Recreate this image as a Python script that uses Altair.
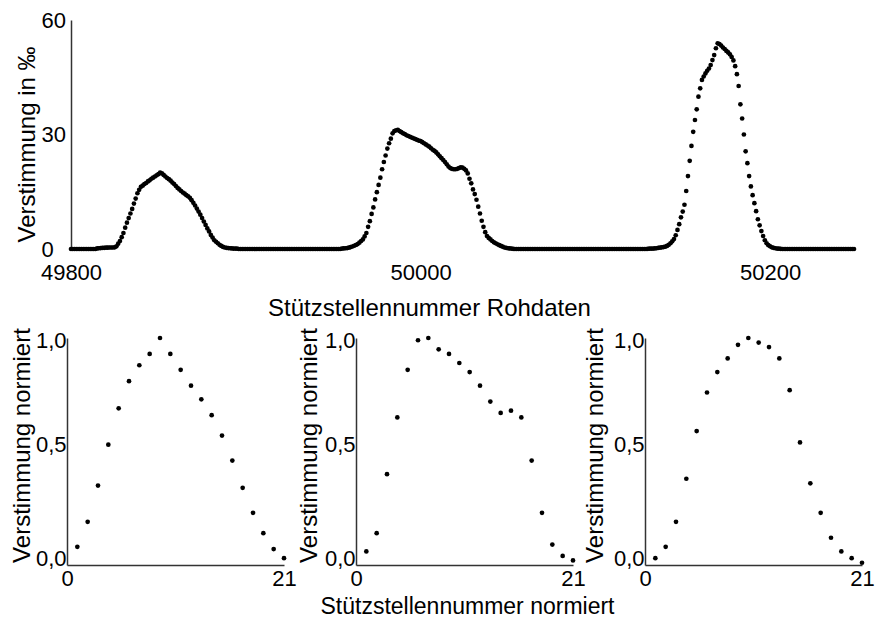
import altair as alt
import pandas as pd

FONT = "Liberation Sans"

# ---- raw data: detuning in per mille over the sample number ----
X_START = 49800
X_END = 50248
raw_x_ticks = [49800, 50000, 50200]
raw_y_ticks = [0, 30, 60]

peak1_start = 49815
peak1 = [0.15, 0.2, 0.25, 0.3, 0.3, 0.35, 0.35, 0.4, 0.4, 0.4, 0.45, 0.7, 1.4, 2.1, 3.1,
         4.2, 5.6, 6.9, 8.1, 9.3, 10.5, 11.9, 13.2, 14.6, 15.5, 16.3, 16.6, 17.0, 17.3, 17.7,
         18.0, 18.4, 18.7, 19.0, 19.3, 19.6, 20.0, 19.8, 19.4, 19.0, 18.6, 18.3, 17.9, 17.4, 17.0,
         16.5, 16.0, 15.6, 15.2, 14.8, 14.5, 14.1, 13.8, 13.4, 12.8, 12.1, 11.4, 10.6, 9.8, 9.0,
         8.1, 7.2, 6.3, 5.4, 4.6, 3.7, 3.0, 2.3, 1.9, 1.5, 1.1, 0.8, 0.55, 0.4, 0.3,
         0.25, 0.2, 0.15, 0.12, 0.1, 0.08]

peak2_start = 49955
peak2 = [0.1, 0.15, 0.2, 0.25, 0.35, 0.5, 0.65, 0.85, 1.05, 1.3, 1.65, 2.1, 2.5, 3.3, 4.2,
         5.8, 7.3, 9.2, 10.9, 13.0, 14.9, 16.8, 18.7, 20.9, 22.8, 24.5, 26.3, 27.7, 28.9, 30.3,
         30.9, 31.1, 31.2, 30.9, 30.6, 30.3, 30.1, 29.8, 29.6, 29.4, 29.2, 29.0, 28.8, 28.6, 28.4,
         28.3, 28.0, 27.7, 27.4, 27.1, 26.8, 26.4, 26.0, 25.7, 25.3, 24.8, 24.3, 23.8, 23.3, 22.8,
         22.2, 21.6, 21.2, 21.0, 20.9, 20.9, 21.0, 21.2, 21.4, 21.3, 21.0, 20.6, 19.8, 18.4, 17.2,
         15.6, 14.4, 12.9, 11.1, 9.3, 7.4, 5.8, 4.4, 3.4, 2.9, 2.5, 2.1, 1.75, 1.5, 1.25,
         1.0, 0.8, 0.6, 0.4, 0.3, 0.2, 0.15, 0.1, 0.05]

peak3_start = 50130
peak3 = [0.05, 0.08, 0.1, 0.12, 0.15, 0.2, 0.3, 0.35, 0.45, 0.5, 0.6, 0.8, 1.1, 1.5, 2.0,
         2.6, 3.6, 5.0, 6.5, 8.3, 9.8, 11.6, 15.2, 19.1, 23.1, 27.0, 30.7, 33.8, 36.6, 39.9,
         42.1, 44.3, 45.2, 46.0, 46.7, 47.3, 48.2, 49.5, 50.8, 52.6, 53.9, 53.7, 53.3, 52.8, 52.4,
         51.9, 51.5, 51.0, 50.3, 49.4, 47.9, 45.8, 42.7, 37.9, 34.2, 30.0, 25.6, 22.5, 19.1, 16.4,
         14.1, 12.0, 9.9, 7.8, 6.2, 4.7, 3.4, 2.3, 1.5, 1.0, 0.7, 0.45, 0.3, 0.2, 0.12,
         0.08, 0.05]

# ---- normalised support points (21 per peak) ----
norm_x = list(range(1, 22))
norm_ticks_x = [0, 21]
norm_ticks_y = [0, 0.5, 1]
norm1 = [0.08, 0.19, 0.35, 0.53, 0.69, 0.81, 0.88, 0.93, 1.00, 0.93, 0.86, 0.79, 0.73, 0.66,
         0.57, 0.46, 0.34, 0.23, 0.14, 0.07, 0.03]
norm2 = [0.06, 0.14, 0.40, 0.65, 0.86, 0.99, 1.00, 0.95, 0.93, 0.89, 0.85, 0.79, 0.72, 0.67,
         0.68, 0.65, 0.46, 0.23, 0.09, 0.04, 0.02]
norm3 = [0.03, 0.08, 0.19, 0.38, 0.59, 0.76, 0.85, 0.91, 0.97, 1.00, 0.98, 0.96, 0.91, 0.77,
         0.54, 0.36, 0.23, 0.12, 0.06, 0.03, 0.01]

# full raw series: zero baseline with the three peaks inserted
raw_x = list(range(X_START, X_END + 1))
raw_y = [0.0] * len(raw_x)
for start, vals in ((peak1_start, peak1), (peak2_start, peak2), (peak3_start, peak3)):
    for i, v in enumerate(vals):
        raw_y[start - X_START + i] = v
raw_df = pd.DataFrame({"sample": raw_x, "value": raw_y})

# plot area starts 4 px left of the first sample; y axis is pulled back onto it
PX_PER_SAMPLE = 783 / (X_END - X_START)
X_LEFT = X_START - 4 / PX_PER_SAMPLE

top = alt.Chart(raw_df).mark_circle(size=22, color="black", opacity=1).encode(
    x=alt.X(
        "sample:Q",
        scale=alt.Scale(domain=[X_LEFT, X_END], nice=False, zero=False),
        axis=alt.Axis(values=raw_x_ticks, format="d", title="Stützstellennummer Rohdaten",
                      labelPadding=13, ticks=False, domain=False, labelFlush=False,
                      titleX=362, titleY=66, titleBaseline="alphabetic"),
    ),
    y=alt.Y(
        "value:Q",
        scale=alt.Scale(domain=[0, 60], nice=False),
        axis=alt.Axis(values=raw_y_ticks, title="Verstimmung in ‰", offset=-4,
                      labelAlign="left", labelPadding=30, ticks=False, labelFlush=False,
                      titleX=-44, titleY=124, titleBaseline="middle"),
    ),
).properties(width=787, height=229)


def norm_panel(values, title_x, x_title):
    df = pd.DataFrame({"n": norm_x, "v": values})
    return alt.Chart(df).mark_circle(size=22, color="black", opacity=1).encode(
        x=alt.X(
            "n:Q",
            scale=alt.Scale(domain=[0, 21], nice=False),
            axis=alt.Axis(values=norm_ticks_x, title=x_title, labelPadding=3, ticks=False,
                          labelFlush=False, titleFontSize=23, titleX=111, titleY=48,
                          titleBaseline="alphabetic"),
        ),
        y=alt.Y(
            "v:Q",
            scale=alt.Scale(domain=[0, 1], nice=False),
            axis=alt.Axis(values=norm_ticks_y,
                          labelExpr="replace(format(datum.value, '.1f'), '.', ',')",
                          title="Verstimmung normiert", labelPadding=1, ticks=False,
                          labelFlush=False,
                          labelOffset=alt.condition("datum.value == 1", alt.value(2), alt.value(-7)),
                          titleX=title_x, titleY=107, titleBaseline="middle"),
        ),
    ).properties(width=217, height=227)


bottom = alt.hconcat(
    norm_panel(norm1, -45, ""),
    norm_panel(norm2, -47, "Stützstellennummer normiert"),
    norm_panel(norm3, -50, ""),
    spacing=72,
    bounds="flush",
)

chart = alt.vconcat(top, bottom, spacing=89, bounds="flush").properties(
    padding={"left": 9, "top": 9, "right": 0, "bottom": 0},
    background="white",
).configure_view(strokeWidth=0).configure_axis(
    labelFont=FONT,
    titleFont=FONT,
    labelFontSize=22,
    titleFontSize=24,
    titleFontWeight="normal",
    labelColor="black",
    titleColor="black",
    domainColor="#333",
    domainWidth=1.5,
    grid=False,
)

chart.save("out.html", embed_options={"renderer": "svg", "actions": False})
